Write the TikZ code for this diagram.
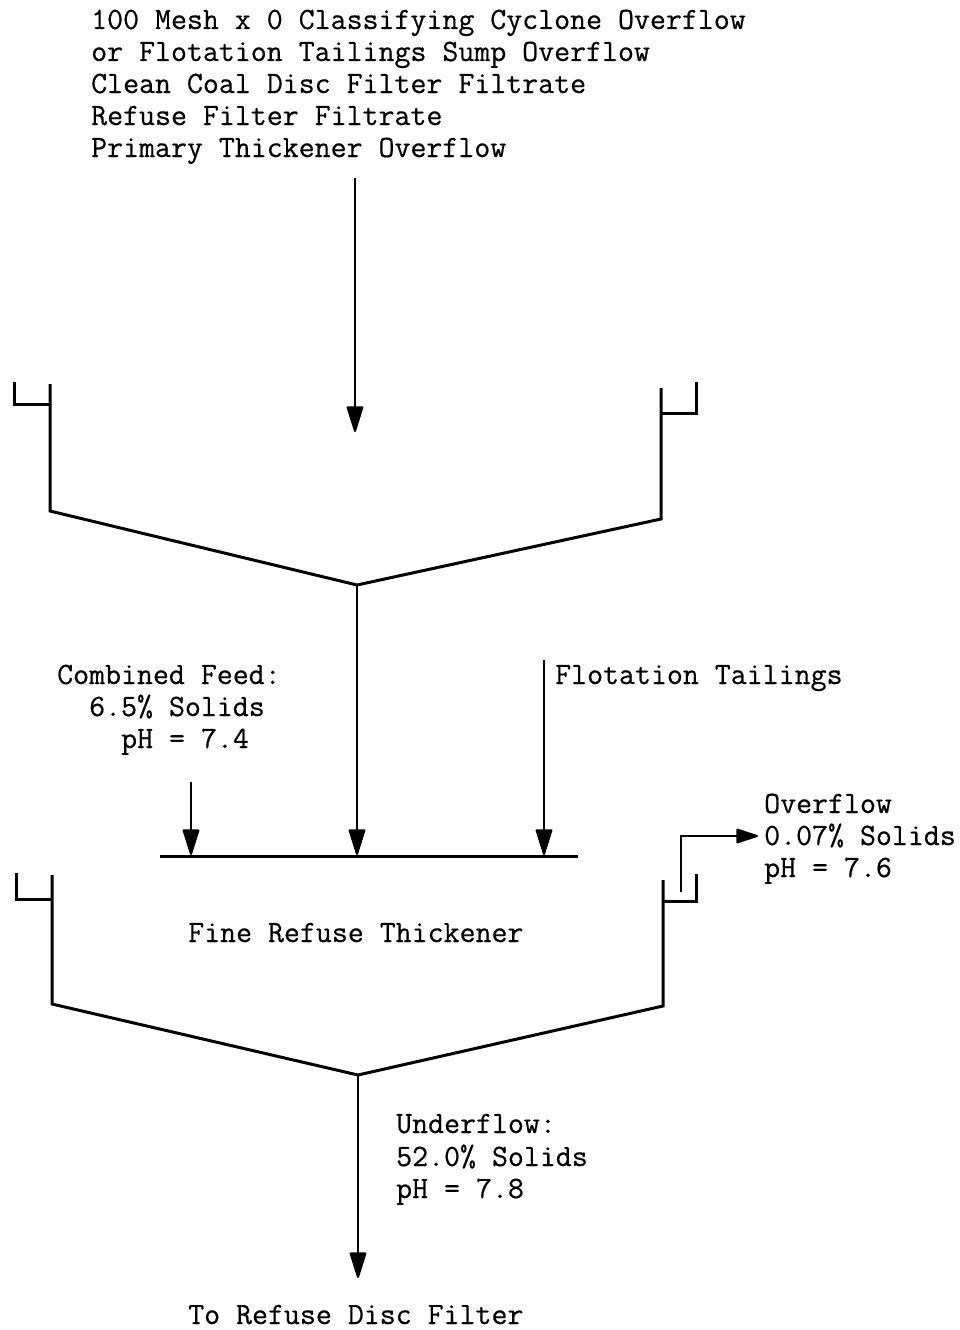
\documentclass[tikz,border=0pt]{standalone}
\usepackage{fontspec}
\setmonofont{Latin Modern Mono}[FakeBold=0.5]
\usetikzlibrary{arrows.meta}
\begin{document}
\begin{tikzpicture}[x=1pt,y=-1pt,
  txt/.style={anchor=base west,inner sep=0pt,font=\ttfamily\fontsize{31}{32}\selectfont},
  tank/.style={line width=3pt,line join=miter,line cap=butt},
  flow/.style={line width=2pt,-{Triangle[length=28pt,width=17pt,round]}},
  flowh/.style={line width=2pt,-{Triangle[length=24pt,width=15pt,round]}}]
\useasboundingbox (0,0) rectangle (960,1330);
% title texts
\node[txt] (t1) at (91,29) {100 Mesh x 0 Classifying Cyclone Overflow};
\node[txt] (t2) at (91,61) {or Flotation Tailings Sump Overflow};
\node[txt] (t3) at (91,93) {Clean Coal Disc Filter Filtrate};
\node[txt] (t4) at (91,125) {Refuse Filter Filtrate};
\node[txt] (t5) at (91,157) {Primary Thickener Overflow};
% upper tank
\coordinate (a0) at (355,178);
\coordinate (a1) at (355,432);
\draw[flow] (a0) -- (a1);
\draw[tank] (14,382) |- (50,404);
\draw[tank] (50,384) -- (50,511) -- (357,585) coordinate (ub) -- (661,519) -- (661,388);
\draw[tank] (661,413) -| (696,382);
% feeds to thickener
\coordinate (barL) at (160,856);
\coordinate (barR) at (578,856);
\draw[tank] (barL) -- (barR);
\coordinate (cf0) at (191,782);
\coordinate (cf1) at (191,855);
\coordinate (mid1) at (357,855);
\coordinate (ft0) at (544,660);
\coordinate (ft1) at (544,855);
\draw[flow] (cf0) -- (cf1);
\draw[flow] (ub) -- (mid1);
\draw[flow] (ft0) -- (ft1);
\node[txt] (cfa) at (57,684) {Combined Feed:};
\node[txt] (cfb) at (89,716) {6.5\% Solids};
\node[txt] (cfc) at (121,748) {pH = 7.4};
\node[txt] (fta) at (555,684) {Flotation Tailings};
% lower tank
\draw[tank] (16,873) |- (52,899);
\draw[tank] (52,875) -- (52,1004) -- (358,1075) coordinate (lb) -- (663,1006) -- (663,880);
\draw[tank] (663,901) -| (696,874);
\coordinate (ov0) at (681,892);
\coordinate (ov1) at (758,836);
\draw[flowh] (ov0) |- (ov1);
\node[txt] (ova) at (764,813) {Overflow};
\node[txt] (ovb) at (764,845) {0.07\% Solids};
\node[txt] (ovc) at (764,877) {pH = 7.6};
\node[txt] (frt) at (188,942) {Fine Refuse Thickener};
% underflow
\coordinate (uf1) at (358,1278);
\draw[flow] (lb) -- (uf1);
\node[txt] (ufa) at (396,1133) {Underflow:};
\node[txt] (ufb) at (396,1166) {52.0\% Solids};
\node[txt] (ufc) at (396,1198) {pH = 7.8};
\node[txt] (rdf) at (188,1324) {To Refuse Disc Filter};
\end{tikzpicture}
\end{document}
